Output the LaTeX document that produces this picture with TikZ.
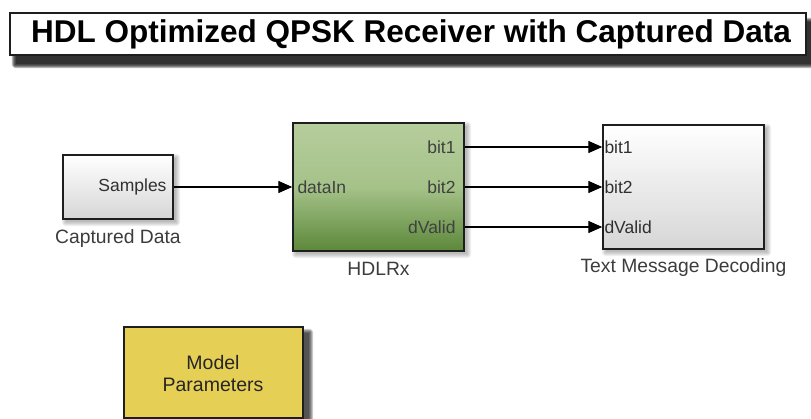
\documentclass[tikz,border=0pt]{standalone}
\usepackage{fontspec}
\setmainfont{Liberation Sans}
\usetikzlibrary{arrows.meta,calc,positioning}
\definecolor{gtop}{RGB}{182,205,156}
\definecolor{gmid}{RGB}{165,194,137}
\definecolor{gbot}{RGB}{92,136,58}
\definecolor{ylw}{RGB}{230,207,85}
\definecolor{wbot}{RGB}{214,214,214}
\definecolor{lbl}{RGB}{60,60,60}
\definecolor{edge}{RGB}{30,30,30}
\tikzset{
  blk/.style={draw=edge, line width=1.4pt, minimum width=#1, inner sep=0pt},
  whiteblk/.style={top color=white, bottom color=wbot},
  greenblk/.style={top color=gtop, bottom color=gbot, middle color=gmid},
  lab/.style={font=\fontsize{19.3}{22}\selectfont, text=lbl, inner sep=0pt},
  port/.style={font=\fontsize{17.5}{20}\selectfont, text=lbl!80!black, inner sep=0pt},
  arr/.style={line width=1.3pt, -{Triangle[length=14pt,width=12pt]}},
  wire/.style={line width=1.3pt}
}
\newcommand\softshadow[4]{% node, dx, dy, opacity
  \foreach \i in {0,1,2,3,4}{
    \fill[black, opacity=#4, rounded corners=\i pt]
      ($(#1.north west)+(#2-\i, #3-\i)$) rectangle ($(#1.south east)+(#2+\i, #3+\i)$);
  }
}
\begin{document}
\begin{tikzpicture}[x=1pt,y=-1pt]
\useasboundingbox (0,0) rectangle (811,419);
\clip (0,0) rectangle (811,419);

% title
\node[inner sep=0pt, minimum width=796pt, minimum height=42pt] (ttl) at (408,34) {};
\softshadow{ttl}{6}{9}{0.28}
\node[draw=edge, line width=1.4pt, fill=white, minimum width=796pt, minimum height=42pt, inner sep=0pt,
      font=\fontsize{31.5}{34}\selectfont\bfseries] (title) at (408,34) {\hspace*{6pt}\raisebox{-1pt}{HDL Optimized QPSK Receiver with Captured Data}};

% blocks (shadows first)
\node[minimum width=110pt, minimum height=64pt, inner sep=0pt] (capS) at (118,187) {};
\softshadow{capS}{3}{3}{0.06}
\node[minimum width=171pt, minimum height=128pt, inner sep=0pt] (hdlS) at (378.5,187) {};
\softshadow{hdlS}{3}{3}{0.06}
\node[minimum width=161pt, minimum height=124pt, inner sep=0pt] (tmdS) at (683.5,187) {};
\softshadow{tmdS}{3}{3}{0.06}
\node[minimum width=179pt, minimum height=91pt, inner sep=0pt] (mpS) at (213.5,372.5) {};
\softshadow{mpS}{6}{6}{0.2}

\node[blk=110pt, whiteblk, minimum height=64pt] (cap) at (118,187) {};
\node[blk=171pt, greenblk, minimum height=128pt] (hdl) at (378.5,187) {};
\node[blk=161pt, whiteblk, minimum height=124pt] (tmd) at (683.5,187) {};
\node[blk=179pt, fill=ylw, minimum height=91pt] (mp) at (213.5,372.5) {};

% block labels
\node[lab, below=10pt of cap] (capl) {Captured Data};
\node[lab, below=10pt of hdl] (hdll) {HDLRx};
\node[lab, below=9pt of tmd] (tmdl) {Text Message Decoding};
\node[font=\fontsize{19.5}{22}\selectfont, text=black!85, align=center, inner sep=0pt] (mpt) at (213,374) {Model\\Parameters};

% port coordinates
\coordinate (capo) at (cap.east);
\coordinate (hin) at (hdl.west);
\coordinate (ho1) at ([yshift=40pt]hdl.east);
\coordinate (ho2) at (hdl.east);
\coordinate (ho3) at ([yshift=-40pt]hdl.east);
\coordinate (ti1) at ([yshift=40pt]tmd.west);
\coordinate (ti2) at (tmd.west);
\coordinate (ti3) at ([yshift=-40pt]tmd.west);

% port labels
\node[port, anchor=east] (sam) at ([xshift=-7pt]capo) {Samples};
\node[port, anchor=west, text=black!75] (din) at ([xshift=5pt]hin) {dataIn};
\node[port, anchor=east, text=black!75] (hb1) at ([xshift=-9pt]ho1) {bit1};
\node[port, anchor=east, text=black!75] (hb2) at ([xshift=-9pt]ho2) {bit2};
\node[port, anchor=east, text=black!75] (hdv) at ([xshift=-9pt]ho3) {dValid};
\node[port, anchor=west] (tb1) at ([xshift=2pt]ti1) {bit1};
\node[port, anchor=west] (tb2) at ([xshift=2pt]ti2) {bit2};
\node[port, anchor=west] (tdv) at ([xshift=2pt]ti3) {dValid};

% connectors
\draw[arr] (capo) -- (hin);
\draw[arr] (ho1) -- (ti1);
\draw[arr] (ho2) -- (ti2);
\draw[arr] (ho3) -- (ti3);
\end{tikzpicture}
\end{document}
